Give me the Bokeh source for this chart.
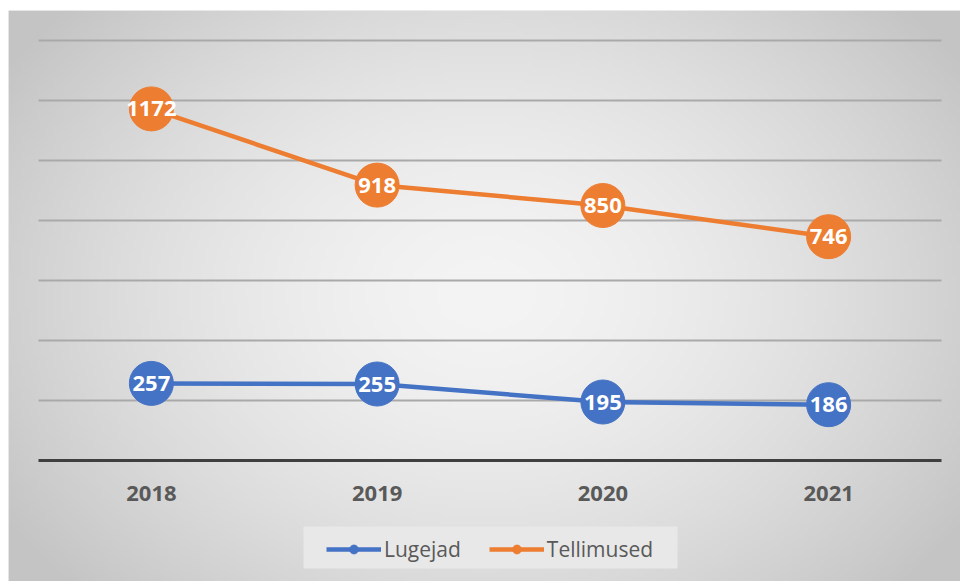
import numpy as np
from bokeh.plotting import figure
from bokeh.models import ColumnDataSource, Legend, LegendItem, LabelSet, Range1d, BoxAnnotation
from bokeh.embed import file_html
from bokeh.resources import INLINE
from bokeh.core.properties import value

years = ["2018", "2019", "2020", "2021"]
lugejad = [257, 255, 195, 186]
tellimused = [1172, 918, 850, 746]
grid_ticks = [200, 400, 600, 800, 1000, 1200, 1400]

BLUE = "#4472C4"
ORANGE = "#ED7D31"
FONT = "Open Sans"

W, H = 952, 571
# plot-area geometry in figure pixels
PL, PR, PT, PB = 30, 933, 30, 450
ymax = 1400
xpx = (PR - PL) / len(years)
ypx = (PB - PT) / ymax
x0 = -0.5 - PL / xpx
x1 = len(years) - 0.5 + (W - PR) / xpx
y1 = ymax + PT / ypx
y0 = -(H - PB) / ypx


def px_x(px):
    return x0 + px / xpx


def px_y(py):
    return y0 + (H - py) / ypx


xs = list(range(len(years)))

p = figure(x_range=Range1d(x0, x1), y_range=Range1d(y0, y1), width=W, height=H,
           output_backend="svg", toolbar_location=None,
           x_axis_location=None, y_axis_location=None,
           min_border=0, margin=(10, 0, 0, 8))
p.outline_line_color = None
p.grid.visible = False
p.background_fill_color = "#e4e4e4"
p.border_fill_color = "#e4e4e4"

# radial gradient background
gh, gw = 143, 238
gy, gx = np.mgrid[0:gh, 0:gw]
cx, cy = gw * 0.5, gh * 0.5
d = np.sqrt(((gx - cx) / (gw * 0.6)) ** 2 + ((gy - cy) / (gh * 0.75)) ** 2)
d = np.clip(d, 0, 1)
g = (244 - (244 - 196) * d ** 1.6).astype(np.uint32)
img = (255 << 24) | (g << 16) | (g << 8) | g
p.image_rgba(image=[img], x=x0, y=y0, dw=x1 - x0, dh=y1 - y0, level="image")

# horizontal gridlines
p.segment(x0=[-0.5] * len(grid_ticks), y0=grid_ticks,
          x1=[len(years) - 0.5] * len(grid_ticks), y1=grid_ticks,
          line_color="#a9a9a9", line_width=2, level="underlay")
# category axis line
p.segment(x0=[-0.5], y0=[0], x1=[len(years) - 0.5], y1=[0],
          line_color="#3f3f3f", line_width=3, level="underlay")
# category labels
p.text(x=xs, y=[0] * len(years), text=years, y_offset=33,
       text_font=value(FONT), text_font_style="bold", text_font_size="22px",
       text_color="#595959", text_align="center", text_baseline="middle")

src_b = ColumnDataSource(dict(x=xs, y=lugejad, t=[str(v) for v in lugejad]))
src_o = ColumnDataSource(dict(x=xs, y=tellimused, t=[str(v) for v in tellimused]))

lb = p.line("x", "y", source=src_b, line_color=BLUE, line_width=4.5)
mb = p.scatter("x", "y", source=src_b, size=11, fill_color=BLUE, line_color=BLUE)
p.scatter("x", "y", source=src_b, size=44, fill_color=BLUE, line_color=BLUE)
lo = p.line("x", "y", source=src_o, line_color=ORANGE, line_width=4.5)
mo = p.scatter("x", "y", source=src_o, size=11, fill_color=ORANGE, line_color=ORANGE)
p.scatter("x", "y", source=src_o, size=44, fill_color=ORANGE, line_color=ORANGE)

for s in (src_b, src_o):
    p.add_layout(LabelSet(x="x", y="y", text="t", source=s, text_color="white",
                          text_font=value(FONT), text_font_style="bold",
                          text_font_size="22px", text_align="center",
                          text_baseline="middle"))

# legend panel background
p.add_layout(BoxAnnotation(left=px_x(295), right=px_x(669), top=px_y(516), bottom=px_y(558),
                           fill_color="#e8e8e8", fill_alpha=1.0, line_color=None,
                           level="underlay"))

legend = Legend(items=[LegendItem(label="Lugejad", renderers=[lb, mb]),
                       LegendItem(label="Tellimused", renderers=[lo, mo])],
                orientation="horizontal", location=(318, 18))
legend.label_text_font = FONT
legend.label_text_font_size = "21px"
legend.label_text_color = "#595959"
legend.glyph_width = 55
legend.glyph_height = 22
legend.spacing = 28
legend.padding = 10
legend.margin = 0
legend.label_standoff = 3
legend.background_fill_alpha = 0
legend.border_line_color = None
p.add_layout(legend, "center")

open("out.html", "w").write(file_html(p, INLINE))
